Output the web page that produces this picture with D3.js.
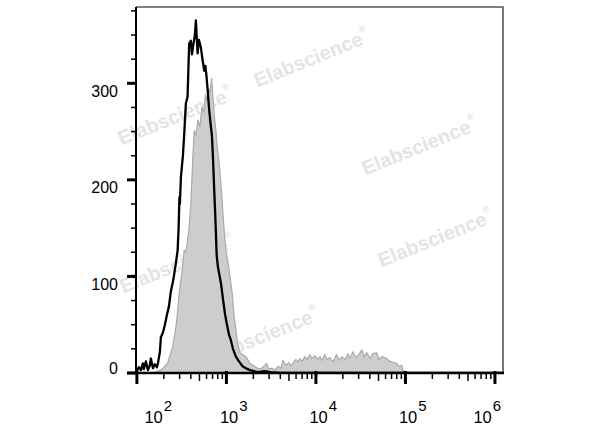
<!DOCTYPE html>
<html>
<head>
<meta charset="utf-8">
<script src="https://cdn.jsdelivr.net/npm/d3@7"></script>
<style>
  html, body { margin: 0; padding: 0; background: #fff; }
  svg { display: block; font-family: "Liberation Sans", Arial, sans-serif; }
</style>
</head>
<body>
<svg id="chart" width="600" height="427"></svg>
<script>
// ---- data (x values are log10 of fluorescence intensity) ----
const blackLog = [2.000,2.022,2.045,2.067,2.078,2.101,2.123,2.145,2.156,2.179,2.201,2.223,2.235,2.257,2.268,2.291,2.313,2.335,2.358,2.380,2.399,2.413,2.436,2.455,2.466,2.475,2.480,2.492,2.514,2.528,2.547,2.566,2.584,2.603,2.615,2.629,2.648,2.659,2.678,2.693,2.715,2.734,2.752,2.765,2.779,2.793,2.808,2.821,2.838,2.849,2.864,2.877,2.891,2.905,2.939,2.964,2.983,3.002,3.028,3.050,3.073,3.106,3.140,3.181,3.218,3.263,3.307,3.352,3.430,3.486,3.598,6.089];
const blackCount = [2,6,3,10,4,12,3,8,15,5,9,6,10,22,37,42,50,60,69,85,93,100,114,127,150,182,175,203,225,246,279,286,341,344,330,339,350,365,331,345,337,324,313,318,306,290,272,260,246,225,189,160,122,110,93,75,62,52,40,34,25,17,12,7,5,3,2,1,2,1,0,0];

const grayLog = [2.145,2.201,2.268,2.302,2.343,2.369,2.399,2.419,2.436,2.453,2.473,2.492,2.511,2.528,2.547,2.581,2.603,2.622,2.640,2.659,2.682,2.704,2.726,2.749,2.765,2.782,2.799,2.816,2.835,2.849,2.866,2.883,2.899,2.919,2.939,2.950,2.961,2.975,2.994,3.017,3.050,3.067,3.087,3.106,3.125,3.151,3.184,3.218,3.263,3.296,3.330,3.374,3.408,3.450,3.475,3.508,3.542,3.575,3.609,3.631,3.665,3.699,3.721,3.743,3.777,3.799,3.821,3.844,3.877,3.899,3.933,3.955,3.989,4.022,4.045,4.067,4.101,4.123,4.156,4.190,4.231,4.257,4.291,4.324,4.358,4.380,4.413,4.447,4.480,4.514,4.536,4.570,4.603,4.637,4.678,4.704,4.737,4.790,4.827,4.860,4.902,4.927,4.958,4.972,4.994];
const grayCount = [0,1,3,6,10,18,27,38,48,62,83,97,110,127,125,148,176,217,251,246,262,255,275,270,288,282,295,290,305,285,265,251,232,217,195,182,165,148,127,115,93,80,58,45,31,21,19,17,10,8,6,4,6,10,4,5,3,7,5,13,8,11,7,10,14,11,15,12,17,14,19,15,18,14,17,13,19,14,16,12,19,13,17,14,20,15,22,16,19,24,17,21,15,20,21,14,17,15,12,11,10,7,8,3,0];

const xTickExps = [2, 3, 4, 5, 6];
const yTicks = [0, 100, 200, 300];
const yMinorTicks = [25, 50, 75, 125, 150, 175, 225, 250, 275, 325, 350, 375];
const watermark = "Elabscience";

// ---- layout ----
const L = 136, R = 503, T = 7, B = 373;
const svg = d3.select("#chart");

const x = d3.scaleLog().domain([Math.pow(10, 1.99), Math.pow(10, 6.09)]).range([L, R]);
const y = d3.scaleLinear().domain([0, 379]).range([B, T]);

// watermarks
const wm = [[312, 60], [176, 118], [420, 148], [436, 240], [178, 266], [262, 338]];
wm.forEach(([cx, cy]) => {
  const t = svg.append("text")
    .attr("transform", `translate(${cx},${cy}) rotate(-22)`)
    .attr("text-anchor", "middle")
    .attr("dominant-baseline", "middle")
    .attr("font-size", 20).attr("font-weight", "bold")
    .attr("fill", "#e4e4e4");
  t.append("tspan").text(watermark);
  t.append("tspan").attr("font-size", 9).attr("dy", -9).text("®");
});

svg.append("defs").append("clipPath").attr("id", "clip")
  .append("rect").attr("x", L).attr("y", T).attr("width", R - L).attr("height", B - T);

const gPlot = svg.append("g").attr("clip-path", "url(#clip)");

const grayData = grayLog.map((e, i) => [Math.pow(10, e), grayCount[i]]);
const blackData = blackLog.map((e, i) => [Math.pow(10, e), blackCount[i]]);

gPlot.append("path")
  .datum(grayData)
  .attr("d", d3.area().x(d => x(d[0])).y0(y(0)).y1(d => y(d[1])))
  .attr("fill", "#cdcdcd")
  .attr("stroke", "#a9a9a9")
  .attr("stroke-width", 1.2)
  .attr("stroke-linejoin", "round");

gPlot.append("path")
  .datum(blackData)
  .attr("d", d3.line().x(d => x(d[0])).y(d => y(d[1])))
  .attr("fill", "none")
  .attr("stroke", "#000")
  .attr("stroke-width", 2.3)
  .attr("stroke-linejoin", "round");

// frame: top and right
svg.append("path")
  .attr("d", `M${L},${T}H${R}V${B}`)
  .attr("fill", "none").attr("stroke", "#555").attr("stroke-width", 1.6);

// left axis
svg.append("line").attr("x1", L).attr("x2", L).attr("y1", T).attr("y2", B + 1)
  .attr("stroke", "#000").attr("stroke-width", 2);
// bottom axis
svg.append("line").attr("x1", L - 9).attr("x2", R + 1).attr("y1", B).attr("y2", B)
  .attr("stroke", "#000").attr("stroke-width", 2.5);

// y ticks
svg.selectAll(".ymaj").data(yTicks).enter().append("line")
  .attr("x1", L - 9).attr("x2", L).attr("y1", d => y(d)).attr("y2", d => y(d))
  .attr("stroke", "#000").attr("stroke-width", 3);
svg.selectAll(".ymin").data(yMinorTicks).enter().append("line")
  .attr("x1", L - 5).attr("x2", L).attr("y1", d => y(d)).attr("y2", d => y(d))
  .attr("stroke", "#000").attr("stroke-width", 1.5);
svg.selectAll(".ylab").data(yTicks).enter().append("text")
  .attr("x", 118).attr("y", d => d === 0 ? y(d) + 1 : y(d) + 13.5)
  .attr("text-anchor", "end").attr("font-size", 16).attr("fill", "#000")
  .text(d => d);

// x ticks
const xMinor = [];
for (let e = 1; e <= 6; e++) for (let m = 2; m <= 9; m++) {
  const v = m * Math.pow(10, e);
  if (x(v) >= L && x(v) <= R) xMinor.push({v, m});
}
svg.selectAll(".xmin").data(xMinor).enter().append("line")
  .attr("x1", d => x(d.v)).attr("x2", d => x(d.v))
  .attr("y1", B).attr("y2", d => B + (d.m === 5 ? 8 : 6))
  .attr("stroke", "#000").attr("stroke-width", 1.5);
svg.selectAll(".xmaj").data(xTickExps).enter().append("line")
  .attr("x1", d => x(Math.pow(10, d))).attr("x2", d => x(Math.pow(10, d)))
  .attr("y1", B - 2).attr("y2", B + 11)
  .attr("stroke", "#000").attr("stroke-width", 3);

const lab = svg.selectAll(".xlab").data(xTickExps).enter().append("text")
  .attr("x", (d, i) => x(Math.pow(10, d)) + (i === 0 ? 15.5 : i === xTickExps.length - 1 ? -13.5 : 1.5) - 8)
  .attr("y", 423)
  .attr("font-size", 16.5).attr("fill", "#000");
lab.append("tspan").text("10");
lab.append("tspan").attr("font-size", 15).attr("dy", -12).attr("dx", 1).text(d => d);
</script>
</body>
</html>
